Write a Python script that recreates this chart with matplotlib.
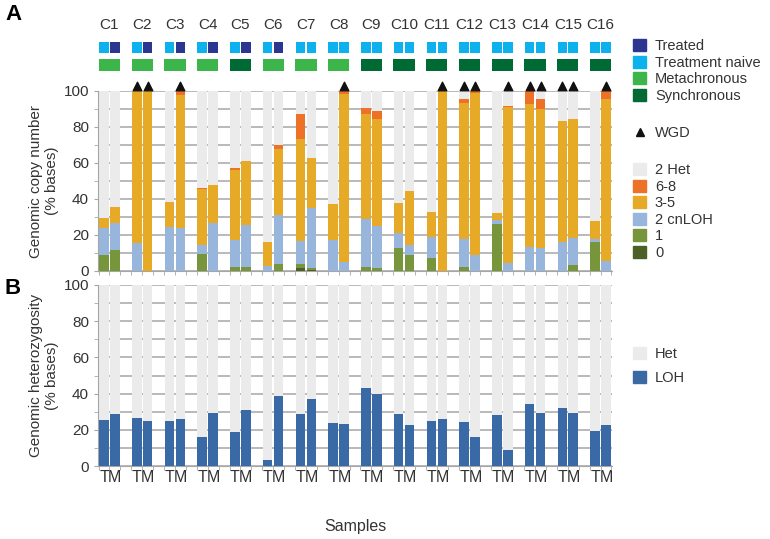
import numpy as np
import matplotlib
matplotlib.use("Agg")
import matplotlib.pyplot as plt
from matplotlib.patches import Patch
from matplotlib.lines import Line2D

plt.rcParams['font.family'] = ['Liberation Sans', 'DejaVu Sans']

cases = [f"C{i}" for i in range(1, 17)]
sample_types = ["T", "M"]

# one value per sample, order C1 T, C1 M, C2 T, ...
cn_0 = [0, 0, 0, 0, 0, 0, 0, 0, 0, 0, 0, 0, 1.5, 0.5, 0, 0,
        0, 0, 0, 0, 0, 0, 0, 0, 0, 0, 0, 0, 0, 0, 0, 0]
cn_1 = [9, 11.4, 0, 0, 0, 0, 9.7, 0, 2.2, 2.2, 0, 4, 2.5, 1, 0, 0,
        2.2, 1.7, 13, 8.8, 7, 0, 2, 0, 26, 0, 0, 0, 0, 3.1, 16, 0]
cn_2_cnloh = [15, 15, 15.3, 0, 24.2, 23.8, 4.8, 26.6, 14.8, 23.5, 3, 27, 12.5, 33.3, 17.4, 5,
              26.8, 23.3, 8.3, 5.9, 12, 0, 16, 9, 2.2, 4.6, 13.4, 12.7, 16.2, 15.5, 1.9, 5.6]
cn_3_5 = [5.4, 9.1, 84.7, 100, 14.3, 74, 31.1, 21.4, 39.2, 35.3, 13.2, 37, 57, 28.2, 19.8, 93.3,
          58, 59.7, 16.5, 29.6, 14, 100, 75.5, 89.7, 4, 86.3, 79.3, 77.1, 67.2, 65.8, 10.1, 89.7]
cn_6_8 = [0, 0, 0, 0, 0, 2.2, 0.6, 0, 0.8, 0.3, 0, 1.8, 13.5, 0, 0, 1.7,
          3.7, 4.1, 0, 0, 0, 0, 2, 1.3, 0, 0.7, 7.3, 5.7, 0, 0, 0, 4.7]
loh = [25.5, 28.6, 26.4, 24.6, 25, 26, 15.8, 29.4, 18.9, 31, 3.1, 38.7, 28.8, 36.9, 23.5, 23.1,
       42.9, 39.8, 29, 22.8, 25.1, 25.9, 24.2, 16.1, 28.3, 8.6, 34.5, 29.2, 32.3, 29.5, 19.1, 22.9]
wgd = [0, 0, 1, 1, 0, 1, 0, 0, 0, 0, 0, 0, 0, 0, 0, 1,
       0, 0, 0, 0, 0, 1, 1, 1, 0, 1, 1, 1, 1, 1, 0, 1]
treated = [1, 1, 1, 1, 1, 1, 0, 0, 0, 0, 0, 0, 0, 0, 0, 0]  # M sample treated
synchronous = [0, 0, 0, 0, 1, 0, 0, 0, 1, 1, 1, 1, 1, 1, 1, 1]

c_het = "#ebebeb"
c_68 = "#ee7128"
c_35 = "#e6aa26"
c_cnloh = "#98b5dc"
c_1 = "#77953b"
c_0 = "#4c5f26"
c_loh = "#3a6aa6"
c_naive = "#0cb1ee"
c_treated = "#2b3690"
c_meta = "#3cb64a"
c_sync = "#006a35"
grid_c = "#a6a6a6"
txt_c = "#333333"

x = np.array([3 * i + j for i in range(16) for j in range(2)], dtype=float)
pair_x = np.array([3 * i + 0.5 for i in range(16)])
w = 0.88

fig = plt.figure(figsize=(7.7, 5.39), dpi=100)
axA = fig.add_axes([98 / 770, 1 - 271 / 539, 514 / 770, 180 / 539])
axB = fig.add_axes([98 / 770, 1 - 466 / 539, 514 / 770, 181 / 539])

for ax in (axA, axB):
    ax.set_xlim(-0.55, 46.55)
    ax.set_ylim(0, 100)
    ax.set_yticks(range(0, 101, 20))
    ax.set_yticks(range(0, 101, 10), minor=True)
    ax.grid(axis="y", which="both", color=grid_c, lw=1.1)
    ax.set_axisbelow(True)
    for s in ("top", "right"):
        ax.spines[s].set_visible(False)
    for s in ("left", "bottom"):
        ax.spines[s].set_color(grid_c)
    ax.tick_params(axis="y", which="both", colors=grid_c, labelcolor=txt_c, labelsize=11, length=3)
    ax.set_xticks(np.arange(-0.5, 47, 1), minor=True)
    ax.tick_params(axis="x", which="minor", colors=grid_c, length=3)

# panel A stacked copy number
axA.bar(x, 100, w, color=c_het, zorder=2)
bottom = np.zeros(32)
for vals, col in [(cn_0, c_0), (cn_1, c_1), (cn_2_cnloh, c_cnloh), (cn_3_5, c_35), (cn_6_8, c_68)]:
    v = np.array(vals)
    axA.bar(x, v, w, bottom=bottom, color=col, zorder=3)
    bottom += v
axA.set_xticks([])

# WGD triangles
wx = x[np.array(wgd) == 1]
axA.scatter(wx, np.full(len(wx), 103), marker="^", s=38, color="#111111", clip_on=False, zorder=5)

# annotation rows above panel A
tcol = []
for t in treated:
    tcol += [c_naive, c_treated if t else c_naive]
axA.bar(x, 6.4, w, bottom=121, color=tcol, clip_on=False)
scol = [c_sync if s else c_meta for s in synchronous]
axA.bar(pair_x, 6.4, 1.95, bottom=111.3, color=scol, clip_on=False)
for px, c in zip(pair_x, cases):
    axA.text(px, 132.5, c, ha="center", va="bottom", fontsize=11, color=txt_c, clip_on=False)

axA.set_ylabel("Genomic copy number\n(% bases)", fontsize=11, color=txt_c, labelpad=3)

# panel B heterozygosity
axB.bar(x, 100, w, color=c_het, zorder=2)
axB.bar(x, loh, w, color=c_loh, zorder=3)
axB.set_xticks(x)
axB.set_xticklabels(sample_types * 16, fontsize=11.5, color=txt_c)
axB.tick_params(axis="x", which="major", length=0, pad=3)
axB.set_ylabel("Genomic heterozygosity\n(% bases)", fontsize=11, color=txt_c, labelpad=3)

fig.text(355 / 770, 1 - 526 / 539, "Samples", ha="center", va="center", fontsize=11.5, color=txt_c)
fig.text(5 / 770, 1 - 15 / 539, "A", ha="left", va="center", fontsize=16, fontweight="bold")
fig.text(5 / 770, 1 - 289 / 539, "B", ha="left", va="center", fontsize=16, fontweight="bold")

# legends
leg_kw = dict(frameon=False, fontsize=10.5, handlelength=0.9, handleheight=0.9,
              handletextpad=0.6, labelspacing=0.17, borderaxespad=0, borderpad=0,
              loc="upper left", labelcolor=txt_c)
h1 = [Patch(color=c) for c in (c_treated, c_naive, c_meta, c_sync)]
fig.legend(h1, ["Treated", "Treatment naive", "Metachronous", "Synchronous"],
           bbox_to_anchor=(633 / 770, 1 - 39 / 539), **leg_kw)
h2 = [Line2D([], [], marker="^", ls="", color="#111111", markersize=6)]
fig.legend(h2, ["WGD"], bbox_to_anchor=(633 / 770, 1 - 126 / 539), **leg_kw)
h3 = [Patch(color=c) for c in (c_het, c_68, c_35, c_cnloh, c_1, c_0)]
fig.legend(h3, ["2 Het", "6-8", "3-5", "2 cnLOH", "1", "0"],
           bbox_to_anchor=(633 / 770, 1 - 163 / 539), **leg_kw)
h4 = [Patch(color=c) for c in (c_het, c_loh)]
fig.legend(h4, ["Het", "LOH"], bbox_to_anchor=(633 / 770, 1 - 347 / 539),
           **{**leg_kw, "labelspacing": 0.7})

fig.savefig("out.png", dpi=100)
